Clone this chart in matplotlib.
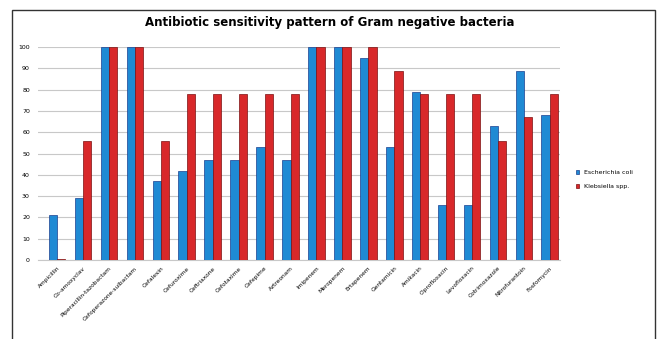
import matplotlib
matplotlib.use("Agg")
import matplotlib.pyplot as plt
import numpy as np
from matplotlib.patches import Rectangle

antibiotics = ["Ampicillin", "Co-amoxyclav", "Piperacillin-tazobactam",
               "Cefoperazone-sulbactam", "Cefalexin", "Cefuroxime", "Ceftriaxone",
               "Cefotaxime", "Cefepime", "Aztreonam", "Imipenem", "Meropenem",
               "Ertapenem", "Gentamicin", "Amikacin", "Ciprofloxacin",
               "Levofloxacin", "Cotrimoxazole", "Nitrofurantoin", "Fosfomycin"]
e_coli = [21, 29, 100, 100, 37, 42, 47, 47, 53, 47, 100, 100, 95, 53, 79, 26, 26, 63, 89, 68]
klebsiella = [0.5, 56, 100, 100, 56, 78, 78, 78, 78, 78, 100, 100, 100, 89, 78, 78, 78, 56, 67, 78]

fig = plt.figure(figsize=(6.59, 3.39), dpi=100)
ax = fig.add_axes([0.058, 0.233, 0.792, 0.628])

x = np.arange(len(antibiotics))
w = 0.32
ax.bar(x - w / 2, e_coli, w, color="#1f8ad4", edgecolor="#1a3f8f", linewidth=0.5,
       label="Escherichia coli", zorder=3)
ax.bar(x + w / 2, klebsiella, w, color="#d8282a", edgecolor="#7a1010", linewidth=0.5,
       label="Klebsiella spp.", zorder=3)

ax.set_ylim(0, 100)
ax.set_xlim(-0.73, 19.4)
ax.set_yticks(range(0, 101, 10))
ax.tick_params(axis="y", labelsize=4.5, length=0, pad=6)
ax.set_xticks(x)
ax.set_xticklabels(antibiotics, rotation=45, ha="right", rotation_mode="anchor", fontsize=4.2)
ax.tick_params(axis="x", length=0, pad=4)
ax.grid(axis="y", color="#c8c8c8", linewidth=0.8, zorder=0)
for s in ["top", "right", "left"]:
    ax.spines[s].set_visible(False)
ax.spines["bottom"].set_color("#c8c8c8")

fig.text(0.5, 0.935, "Antibiotic sensitivity pattern of Gram negative bacteria",
         ha="center", va="center", fontsize=8.5, fontweight="bold")

fig.legend(loc="center left", bbox_to_anchor=(0.865, 0.47), fontsize=4.5, frameon=False,
           handlelength=0.6, handleheight=0.6, labelspacing=1.4)

fig.patches.append(Rectangle((0.018, -0.05), 0.976, 1.02, transform=fig.transFigure,
                             fill=False, edgecolor="#333333", linewidth=1.0))

fig.savefig("out.png", dpi=100)
